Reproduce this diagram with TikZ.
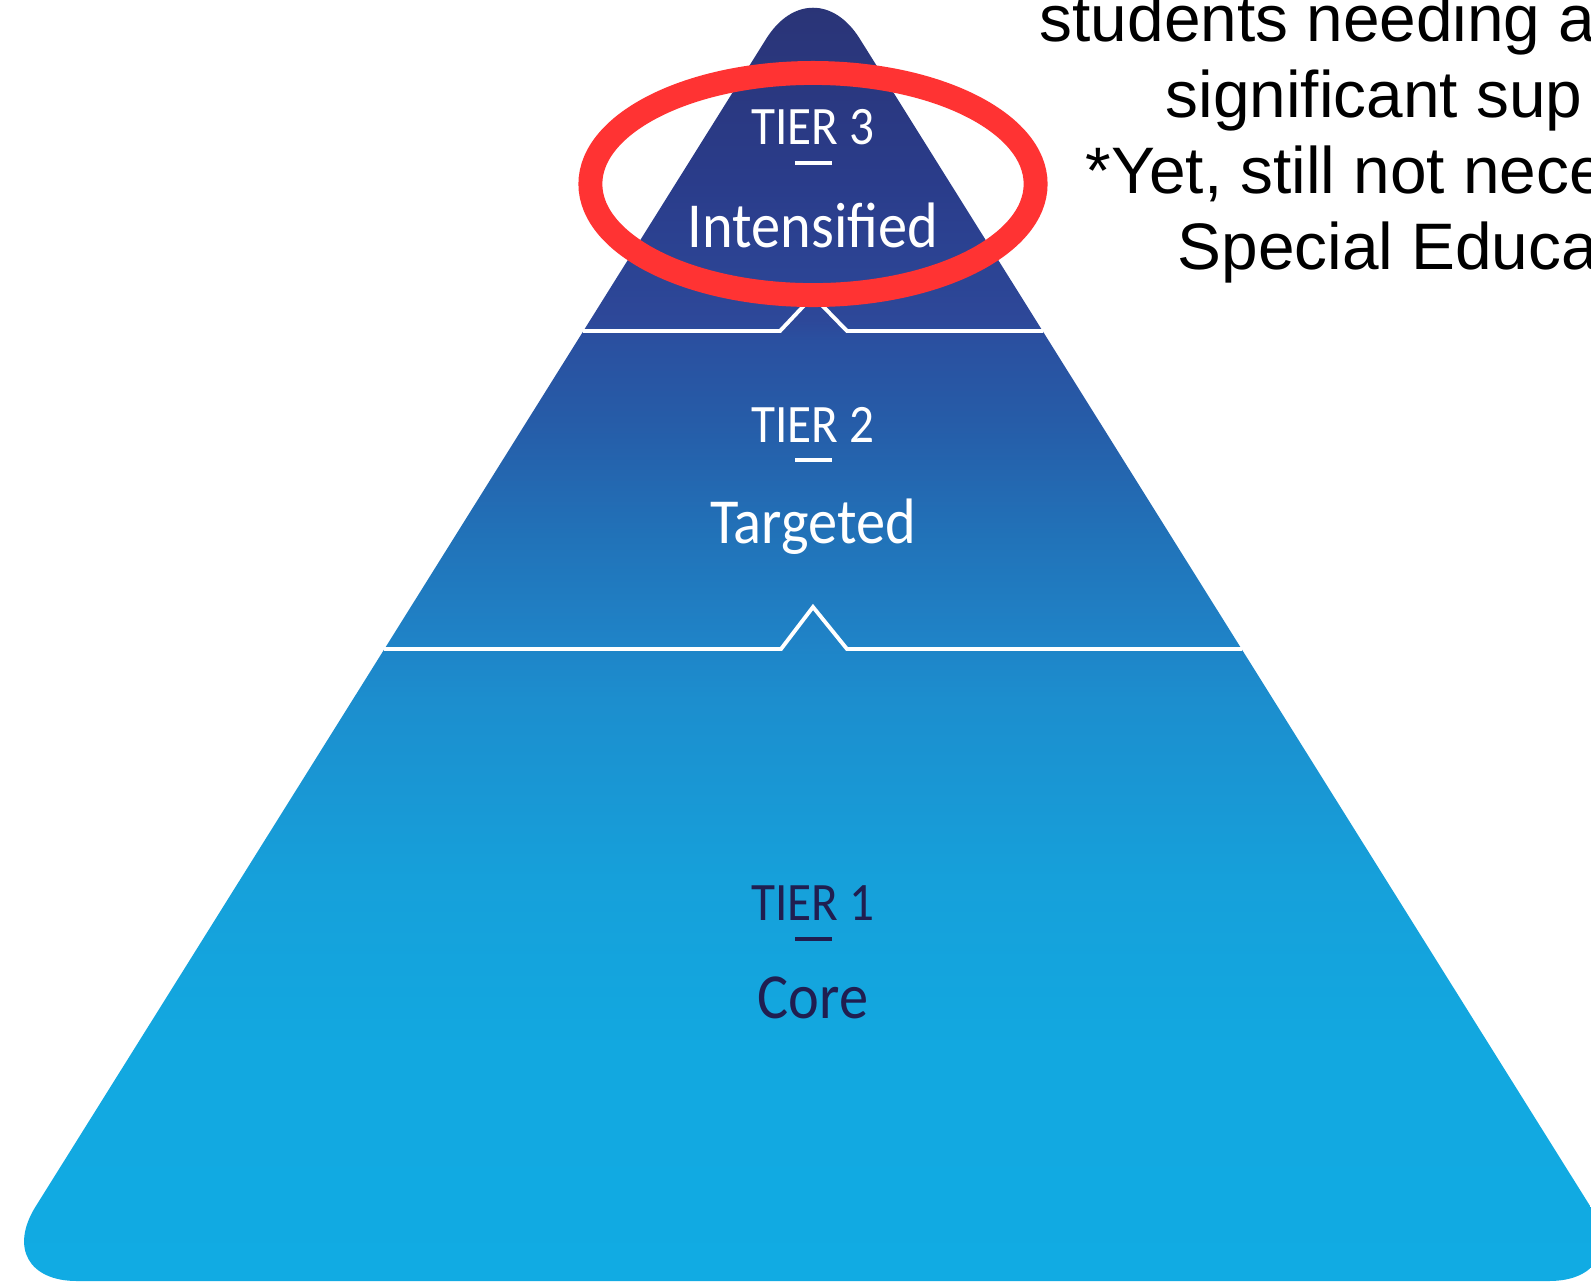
\documentclass[tikz,border=0pt]{standalone}
\usepackage{fontspec}
\setmainfont{Liberation Sans}
\newfontfamily\tierfont{Carlito}
\usetikzlibrary{calc}

\definecolor{ring}{RGB}{255,51,51}
\definecolor{coretext}{RGB}{32,30,80}
\definecolor{fadeA}{RGB}{17,171,227}
\definecolor{fadeB}{RGB}{18,168,224}
\definecolor{fadeC}{RGB}{22,160,218}
\definecolor{fadeD}{RGB}{28,142,206}
\definecolor{fadeE}{RGB}{31,131,199}
\definecolor{fadeF}{RGB}{33,115,185}
\definecolor{fadeG}{RGB}{38,92,168}
\definecolor{fadeH}{RGB}{42,80,160}
\definecolor{fadeI}{RGB}{45,72,153}
\definecolor{fadeJ}{RGB}{42,60,138}
\definecolor{fadeK}{RGB}{42,52,118}
\pgfdeclareverticalshading{pyramidfade}{100bp}{color(0bp)=(fadeA); color(25bp)=(fadeA);
  color(34bp)=(fadeB); color(40.7bp)=(fadeC); color(47.7bp)=(fadeD); color(50bp)=(fadeE);
  color(53.9bp)=(fadeF); color(58.6bp)=(fadeG); color(61.7bp)=(fadeH); color(62.5bp)=(fadeI);
  color(68bp)=(fadeJ); color(75bp)=(fadeK); color(100bp)=(fadeK)}

\newcommand{\tall}[1]{\scalebox{1}[1.1]{#1}}

\begin{document}
\begin{tikzpicture}[x=0.01cm,y=-0.01cm,
    tier/.style={font=\tierfont\fontsize{14}{16}\selectfont, anchor=base, inner sep=0pt},
    word/.style={font=\tierfont\fontsize{16.6}{19}\selectfont, anchor=base, inner sep=0pt},
    note/.style={font=\fontsize{18.7}{22}\selectfont, anchor=base west, inner sep=0pt},
    sep/.style={white, line width=1.1pt},
    rule/.style={line width=0.95pt}]
  \useasboundingbox (0,0) rectangle (1591,1281);
  \coordinate (L) at (-11,1281);
  \coordinate (T) at (813,-36);
  \coordinate (R) at (1637,1281);
  \coordinate (M) at (813,1281);

  \begin{scope}
    \clip (M) [rounded corners=0.88cm] -- (L) -- (T) -- (R) -- cycle;
    \shade[shading=pyramidfade] (0,0) rectangle (1591,1281);
  \end{scope}

  % tier borders
  \draw[sep] (583,331) -- (780,331) -- (813,296) -- (847,331) -- (1043,331);
  \draw[sep] (384,649) -- (781,649) -- (813,607) -- (847,649) -- (1242,649);

  \node[tier, white] (tier3) at (813,144) {\tall{TIER 3}};
  \draw[rule, white] ($(tier3.base)+(-18,19)$) -- ++(37,0);
  \node[word, white] (intensified) at (813,247) {\tall{Intensified}};

  \node[tier, white] (tier2) at (813,442) {\tall{TIER 2}};
  \draw[rule, white] ($(tier2.base)+(-18,18)$) -- ++(37,0);
  \node[word, white] (targeted) at (813,543) {\tall{Targeted}};

  \node[tier, coretext] (tier1) at (813,920) {\tall{TIER 1}};
  \draw[rule, coretext] ($(tier1.base)+(-18,19)$) -- ++(37,0);
  \node[word, coretext] (core) at (813,1018) {\tall{Core}};

  \draw[ring, line width=6.8pt] (813,184) ellipse (2.225cm and 1.11cm);

  \node[note] (line1) at (1039,41) {students needing a};
  \node[note] (line2) at (1165,117) {significant sup};
  \node[note] (line3) at (1085,193) {*Yet, still not nece};
  \node[note] (line4) at (1177,269) {Special Educa};
\end{tikzpicture}
\end{document}
